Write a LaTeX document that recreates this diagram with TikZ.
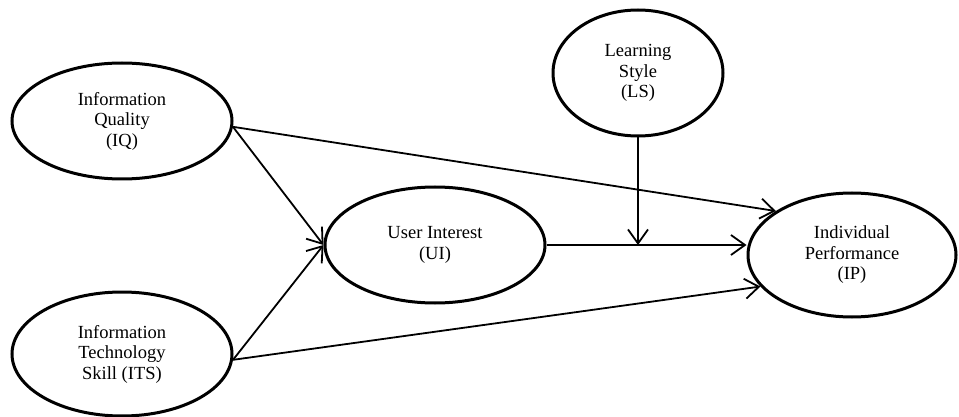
\documentclass[tikz,border=0pt]{standalone}
\usepackage{fontspec}
\setmainfont{Liberation Serif}
\usetikzlibrary{arrows.meta,shapes.geometric}
\begin{document}
\begin{tikzpicture}[x=1pt,y=-1pt,
  construct/.style={draw, ellipse, line width=3pt, align=center, inner sep=0pt,
    font=\fontsize{18.5}{20.5}\selectfont},
  link/.style={line width=1.8pt, -{Straight Barb[length=14pt,width=20pt,line width=1.8pt]}}]
\useasboundingbox (0,0) rectangle (959,417);
\node[construct, minimum width=220pt, minimum height=116pt] (iq) at (122,121) {Information\\Quality\\(IQ)};
\node[construct, minimum width=220pt, minimum height=124pt] (its) at (122,354) {Information\\Technology\\Skill (ITS)};
\node[construct, minimum width=170pt, minimum height=126pt] (ls) at (638,73) {Learning\\Style\\(LS)};
\node[construct, minimum width=220pt, minimum height=116pt] (ui) at (435,245) {User Interest\\(UI)};
\node[construct, minimum width=208pt, minimum height=124pt] (ip) at (852,255) {Individual\\Performance\\(IP)};
\coordinate (mod) at (ls.south |- ui.east);
\draw[link] (iq.-3) -- (ui.west);
\draw[link] (its.-3) -- (ui.west);
\draw[link] (iq.-3) -- (ip.150);
\draw[link] (its.-3) -- (ip.199);
\draw[link] (ui.east) -- (ui.east -| ip.west);
\draw[link] (ls.south) -- (mod);
\end{tikzpicture}
\end{document}
